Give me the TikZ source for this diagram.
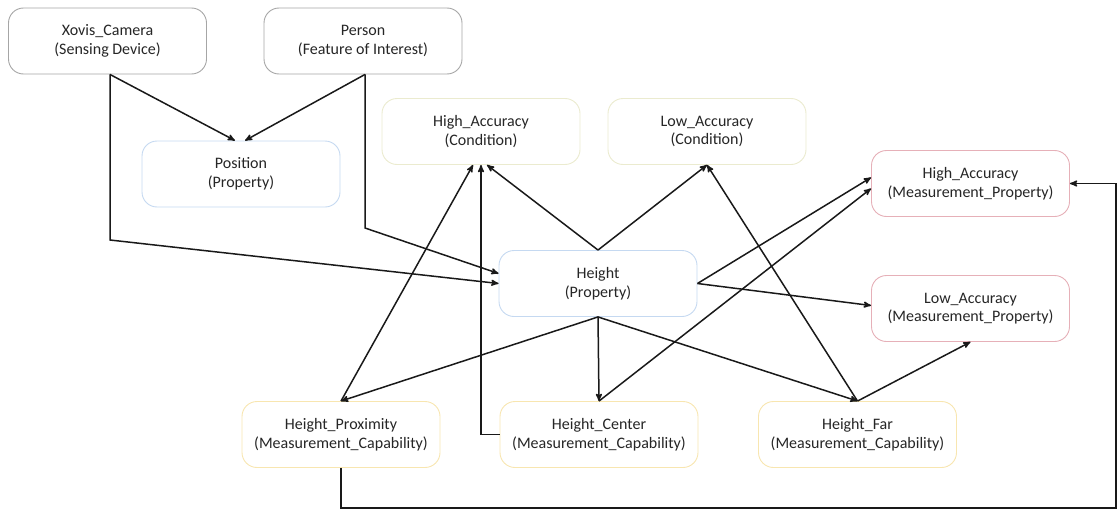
\documentclass[tikz,border=0pt]{standalone}
\usepackage{fontspec}
\setmainfont{Carlito}
\usepackage{tikz}
\usetikzlibrary{arrows}
\definecolor{devgray}{HTML}{A6A6A6}
\definecolor{propblue}{HTML}{C5D9F1}
\definecolor{condyellow}{HTML}{EBEBCF}
\definecolor{mppink}{HTML}{E6B0B8}
\definecolor{capyellow}{HTML}{F8E6B0}
\tikzset{
  box/.style={draw, rounded corners=15pt, minimum width=198pt, minimum height=66pt,
    align=center, inner sep=2pt, line width=0.9pt, fill=white,
    font=\fontsize{16}{18.5}\selectfont, text=black!85},
  arr/.style={black!90, line width=1.5pt, ->, >=stealth'}
}
\begin{document}
\begin{tikzpicture} [x=1pt, y=-1pt]
\useasboundingbox (0,0) rectangle (1118,511);
% top row
\node[box, draw=devgray] (xovis) at (107.5,41) {Xovis\_Camera\\(Sensing Device)};
\node[box, draw=devgray] (person) at (363,41) {Person\\(Feature of Interest)};
\node[box, draw=propblue] (pos) at (241,174) {Position\\(Property)};
% conditions
\node[box, draw=condyellow] (hacond) at (481,131.5) {High\_Accuracy\\(Condition)};
\node[box, draw=condyellow] (lacond) at (707,131.5) {Low\_Accuracy\\(Condition)};
\node[box, draw=propblue] (height) at (598,283.5) {Height\\(Property)};
% measurement properties
\node[box, draw=mppink] (hamp) at (970.5,183.5) {High\_Accuracy\\(Measurement\_Property)};
\node[box, draw=mppink] (lamp) at (970.5,308.5) {Low\_Accuracy\\(Measurement\_Property)};
% capabilities
\node[box, draw=capyellow] (prox) at (341,434.5) {Height\_Proximity\\(Measurement\_Capability)};
\node[box, draw=capyellow] (center) at (599,434.5) {Height\_Center\\(Measurement\_Capability)};
\node[box, draw=capyellow] (far) at (857.5,434.5) {Height\_Far\\(Measurement\_Capability)};

\coordinate (xbend) at (110,240);
\coordinate (pbend) at (365,228);
\coordinate (loopend) at (1116,508);

\draw[arr] ([xshift=2.5pt]xovis.south) -- ([xshift=-6pt]pos.north);
\draw[arr] ([xshift=2pt]person.south) -- ([xshift=4pt]pos.north);
\draw[arr] ([xshift=2.5pt]xovis.south) -- (xbend) -- (height.west);
\draw[arr] ([xshift=2pt]person.south) -- (pbend) -- ([yshift=10pt]height.west);
\draw[arr] (height.north) -- ([xshift=6pt]hacond.south);
\draw[arr] (height.north) -- (lacond.south);
\draw[arr] (prox.north) -- ([xshift=-8pt]hacond.south);
\draw[arr] (center.west) -| (hacond.south);
\draw[arr] (height.south) -- (center.north);
\draw[arr] (height.south) -- (prox.north);
\draw[arr] (height.south) -- (far.north);
\draw[arr] (height.east) -- ([yshift=6pt]hamp.west);
\draw[arr] (height.east) -- ([yshift=3pt]lamp.west);
\draw[arr] (center.north) -- ([yshift=-5pt]hamp.west);
\draw[arr] (far.north) -- (lacond.south);
\draw[arr] (far.north) -- (lamp.south);
\draw[arr] (prox.south) |- (loopend) |- (hamp.east);
\end{tikzpicture}
\end{document}
